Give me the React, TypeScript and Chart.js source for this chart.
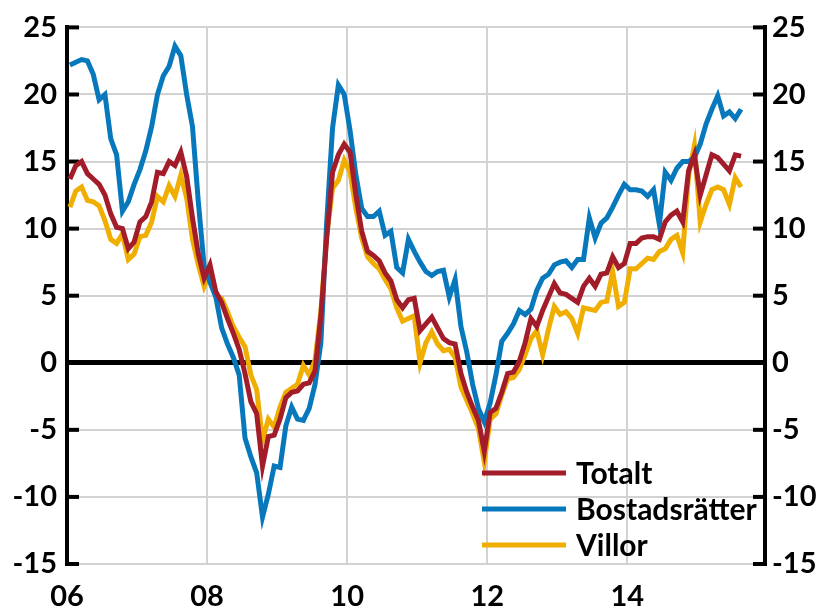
import React, { useEffect, useRef } from 'react';
import { Chart, registerables } from 'chart.js';

Chart.register(...registerables);

// Monthly observations, Jan 2006 .. Aug 2015 (annual % change)
const monthsShown = 119.6; // x-axis extent in months from Jan 2006
const xTickMonths = [0, 24, 48, 72, 96];
const xTickLabels = ['06', '08', '10', '12', '14'];
const yTickValues = [-15, -10, -5, 0, 5, 10, 15, 20, 25];

const totalt = [
  13.7, 14.7, 15.0, 14.1, 13.7, 13.3, 12.5, 11.1, 10.1, 10.0, 8.5, 9.0,
  10.5, 10.9, 12.0, 14.2, 14.1, 15.0, 14.7, 15.7, 13.9, 10.8, 8.1, 6.3,
  7.3, 5.3, 4.5, 3.3, 2.2, 1.0, -0.8, -2.9, -3.8, -7.7, -5.5, -5.4,
  -4.2, -2.6, -2.2, -2.1, -1.6, -1.5, -0.6, 3.5, 9.3, 14.2, 15.5, 16.3,
  15.7, 12.5, 9.8, 8.3, 8.0, 7.6, 6.7, 6.1, 4.7, 4.1, 4.7, 4.8,
  2.4, 2.9, 3.4, 2.6, 1.8, 1.5, 1.4, -0.8, -2.2, -3.3, -4.3, -6.6,
  -3.7, -3.4, -2.2, -0.8, -0.7, 0.1, 1.5, 3.3, 2.7, 3.9, 4.9, 5.9,
  5.2, 5.1, 4.8, 4.5, 5.7, 6.3, 5.7, 6.6, 6.7, 7.9, 7.1, 7.4,
  8.9, 8.9, 9.3, 9.4, 9.4, 9.2, 10.5, 11.0, 11.3, 10.5, 14.3, 15.5,
  12.5, 14.0, 15.5, 15.3, 14.8, 14.3, 15.5, 15.4,
];

const bostadsratter = [
  22.2, 22.4, 22.6, 22.5, 21.5, 19.6, 20.0, 16.7, 15.5, 11.3, 12.0, 13.3,
  14.4, 15.8, 17.6, 20.0, 21.4, 22.1, 23.6, 22.9, 20.0, 17.6, 12.0, 7.2,
  6.0, 4.9, 2.6, 1.4, 0.4, -0.9, -5.6, -7.0, -8.2, -11.5, -9.8, -7.7,
  -7.8, -4.7, -3.3, -4.2, -4.3, -3.4, -1.6, 1.5, 10.5, 17.5, 20.7, 20.0,
  17.3, 14.0, 11.5, 10.9, 10.9, 11.3, 9.5, 9.8, 7.1, 6.7, 9.2, 8.3,
  7.5, 6.8, 6.5, 6.8, 6.9, 4.9, 6.2, 2.7, 0.8, -1.6, -3.4, -4.4,
  -3.0, -0.9, 1.6, 2.2, 2.9, 3.9, 3.6, 4.0, 5.4, 6.3, 6.6, 7.3,
  7.5, 7.6, 7.1, 7.7, 7.7, 10.8, 9.3, 10.4, 10.8, 11.6, 12.5, 13.3,
  12.9, 12.9, 12.8, 12.4, 12.9, 10.3, 14.2, 13.6, 14.5, 15.0, 15.0, 15.3,
  16.3, 17.8, 18.9, 19.9, 18.4, 18.7, 18.2, 18.9,
];

const villor = [
  11.6, 12.8, 13.1, 12.1, 12.0, 11.7, 10.6, 9.2, 8.9, 9.6, 7.7, 8.1,
  9.4, 9.5, 10.5, 12.4, 12.0, 13.2, 12.4, 14.0, 12.3, 9.2, 7.3, 5.7,
  6.8, 5.0, 4.8, 3.8, 2.7, 1.9, 1.2, -0.9, -2.0, -5.8, -4.2, -4.8,
  -3.3, -2.2, -1.9, -1.6, -0.2, -0.9, 0.2, 3.8, 9.5, 13.0, 13.6, 15.1,
  14.2, 11.5, 9.3, 7.9, 7.4, 7.0, 6.2, 5.5, 4.1, 3.1, 3.3, 3.5,
  0.0, 1.5, 2.3, 1.4, 0.9, 1.0, 0.4, -1.8, -2.8, -3.8, -4.9, -7.4,
  -4.2, -3.8, -2.4, -1.2, -1.1, -0.5, 0.6, 1.8, 2.4, 0.6, 2.5, 4.2,
  3.6, 3.8, 3.3, 2.2, 4.1, 4.0, 3.9, 4.5, 4.6, 6.8, 4.2, 4.5,
  7.0, 7.0, 7.4, 7.8, 7.7, 8.3, 8.5, 9.2, 9.5, 8.2, 14.0, 16.2,
  10.5, 11.8, 12.9, 13.1, 12.9, 11.8, 13.8, 13.1,
];

const seriesLabels = ['Totalt', 'Bostadsrätter', 'Villor'];
const seriesColors = ['#A31C29', '#0878BD', '#F0AE00'];

const FONT_FAMILY = 'Lato, "DejaVu Sans", sans-serif';
const TICK_FONT = { family: FONT_FAMILY, size: 29, weight: 'bold' as const };
const LEGEND_FONT = `bold 30px ${FONT_FAMILY}`;
const GRID_COLOR = '#d2d2d2';

// point at the middle of each month
const toPoints = (vals: number[]) => vals.map((v, i) => ({ x: i + 0.5, y: v }));

const axisDecor = {
  id: 'axisDecor',
  beforeDatasetsDraw(chart: any) {
    const { ctx, chartArea, scales } = chart;
    const y = scales.y;
    ctx.save();
    ctx.strokeStyle = '#000';
    ctx.lineWidth = 4;
    ctx.lineCap = 'butt';
    for (const v of yTickValues) {
      const py = y.getPixelForValue(v);
      ctx.beginPath();
      ctx.moveTo(chartArea.left - 2, py);
      ctx.lineTo(chartArea.left + 12, py);
      ctx.stroke();
      ctx.beginPath();
      ctx.moveTo(chartArea.right + 2, py);
      ctx.lineTo(chartArea.right - 12, py);
      ctx.stroke();
    }
    ctx.restore();
  },
  afterDatasetsDraw(chart: any) {
    const { ctx } = chart;
    const rows = [473, 509, 545];
    ctx.save();
    ctx.font = LEGEND_FONT;
    ctx.textBaseline = 'middle';
    ctx.textAlign = 'left';
    seriesLabels.forEach((label, k) => {
      const yy = rows[k];
      ctx.strokeStyle = seriesColors[k];
      ctx.lineWidth = 5;
      ctx.beginPath();
      ctx.moveTo(482, yy);
      ctx.lineTo(566, yy);
      ctx.stroke();
      ctx.fillStyle = '#000';
      ctx.fillText(label, 576, yy + 1);
    });
    ctx.restore();
  },
};

export default function App() {
  const ref = useRef<HTMLCanvasElement | null>(null);

  useEffect(() => {
    if (!ref.current) return;
    const series = [totalt, bostadsratter, villor];
    const chart = new Chart(ref.current, {
      type: 'line',
      data: {
        datasets: series.map((vals, k) => ({
          label: seriesLabels[k],
          data: toPoints(vals),
          borderColor: seriesColors[k],
          backgroundColor: seriesColors[k],
          borderWidth: 5,
          pointRadius: 0,
          tension: 0,
          fill: false,
          order: k,
        })),
      },
      options: {
        animation: false,
        responsive: false,
        devicePixelRatio: 1,
        layout: { padding: { top: 24, left: 0, right: 0, bottom: 0 } },
        plugins: { legend: { display: false }, tooltip: { enabled: false } },
        scales: {
          x: {
            type: 'linear',
            min: 0,
            max: monthsShown,
            afterBuildTicks: (scale: any) => {
              scale.ticks = xTickMonths.map((v) => ({ value: v }));
            },
            afterFit: (scale: any) => {
              scale.height = 47;
            },
            ticks: {
              autoSkip: false,
              maxRotation: 0,
              padding: 15,
              color: '#000',
              font: TICK_FONT,
              callback: (value: any) => {
                const idx = xTickMonths.indexOf(Number(value));
                return idx >= 0 ? xTickLabels[idx] : '';
              },
            },
            grid: { color: GRID_COLOR, lineWidth: 2, drawTicks: false },
            border: { display: false },
          },
          y: {
            position: 'left',
            min: -15,
            max: 25,
            afterBuildTicks: (scale: any) => {
              scale.ticks = yTickValues.map((v) => ({ value: v }));
            },
            afterFit: (scale: any) => {
              scale.width = 67;
            },
            ticks: { padding: 10, color: '#000', font: TICK_FONT },
            grid: {
              drawTicks: false,
              color: (c: any) => (c.tick && c.tick.value === 0 ? '#000' : GRID_COLOR),
              lineWidth: (c: any) => (c.tick && c.tick.value === 0 ? 5 : 2),
            },
            border: { display: true, color: '#000', width: 4 },
          },
          y2: {
            position: 'right',
            min: -15,
            max: 25,
            afterBuildTicks: (scale: any) => {
              scale.ticks = yTickValues.map((v) => ({ value: v }));
            },
            afterFit: (scale: any) => {
              scale.width = 60;
            },
            ticks: { padding: 7, color: '#000', font: TICK_FONT },
            grid: { display: false, drawTicks: false },
            border: { display: true, color: '#000', width: 4 },
          },
        },
      },
      plugins: [axisDecor],
    });
    return () => chart.destroy();
  }, []);

  return (
    <div style={{ position: 'fixed', left: 0, top: 0, width: 825, height: 611, background: '#fff' }}>
      <canvas ref={ref} width={825} height={611} />
    </div>
  );
}
